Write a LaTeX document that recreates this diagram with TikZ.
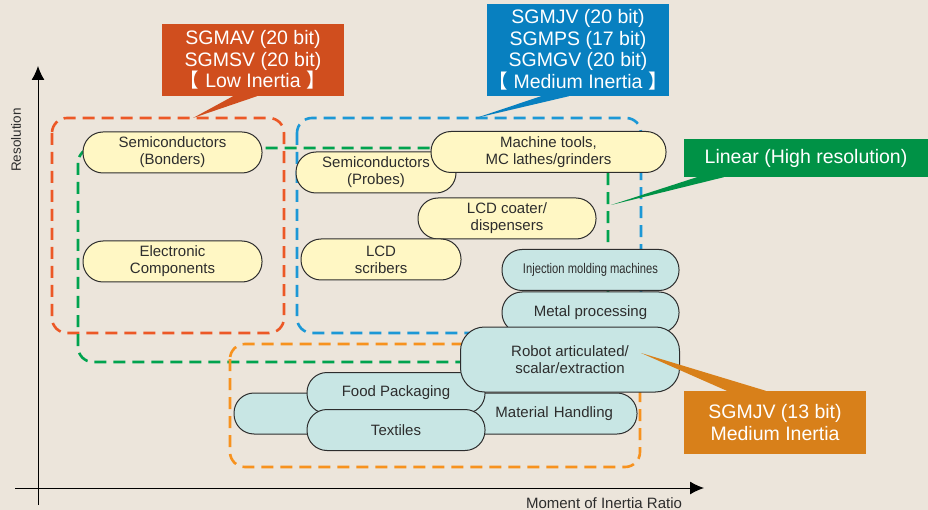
\documentclass[tikz,border=0pt]{standalone}
\usepackage{fontspec}
\setmainfont{Liberation Sans}
\newfontfamily\cjk{Noto Sans CJK SC}
\usetikzlibrary{positioning,arrows.meta}

\definecolor{bgcol}{RGB}{236,229,219}
\definecolor{lowcol}{RGB}{208,78,30}
\definecolor{medcol}{RGB}{8,128,192}
\definecolor{lincol}{RGB}{0,146,70}
\definecolor{jvcol}{RGB}{216,128,26}
\definecolor{lowdash}{RGB}{236,88,38}
\definecolor{meddash}{RGB}{28,152,214}
\definecolor{lindash}{RGB}{0,163,78}
\definecolor{jvdash}{RGB}{247,146,30}
\definecolor{yfill}{RGB}{255,247,196}
\definecolor{cfill}{RGB}{200,230,228}
\definecolor{edge}{RGB}{45,45,45}

\begin{document}
\begin{tikzpicture}[
  x = 1pt, y = -1pt,
  app/.style = {draw=edge, line width=1pt, rounded corners=20pt,
    minimum height=41, inner sep=0pt, align=center, text=edge,
    font=\fontsize{15}{17}\selectfont},
  yapp/.style = {app, fill=yfill},
  capp/.style = {app, fill=cfill},
  group/.style = {line width=2.6pt, dash pattern=on 12pt off 7pt,
    rounded corners=15pt},
  callout/.style = {inner sep=0pt, align=center, text=white,
    font=\fontsize{19.5}{21.5}\selectfont},
  ]
  \fill[bgcol] (0,0) rectangle (928,510);
  \useasboundingbox (0,0) rectangle (928,510);

  % axes
  \coordinate (yfoot) at (38,505);
  \coordinate (ytip) at (38,66);
  \coordinate (xfoot) at (15,488);
  \coordinate (xtip) at (704,488);
  \draw[line width=1pt, -{Latex[length=14pt,width=13pt]}] (yfoot) -- (ytip);
  \draw[line width=1pt, -{Latex[length=14pt,width=13pt]}] (xfoot) -- (xtip);
  \node[rotate=90, text=edge, font=\fontsize{13.5}{15}\selectfont]
    (res) at (16,140) {Resolution};
  \node[anchor=base, text=edge, font=\fontsize{15}{17}\selectfont]
    (mir) at (604,508) {Moment of Inertia Ratio};

  % dashed groups
  \draw[group, lowdash] (52,118) rectangle (284,333);
  \draw[group, meddash] (297,118) rectangle (641,333);
  \draw[group, lindash] (78,148) rectangle (608,362);
  \draw[group, jvdash] (230,344) rectangle (640,467);

  % applications
  \node[yapp, minimum width=179] (bond) at (172.5,152.5) {Semiconductors\\(Bonders)};
  \node[yapp, minimum width=179] (elec) at (172.5,261.5) {Electronic\\Components};
  \node[yapp, minimum width=160] (probe) at (376,172.5) {Semiconductors\\(Probes)};
  \node[yapp, minimum width=235] (mach) at (548.5,152) {Machine tools,\\MC lathes/grinders};
  \node[yapp, minimum width=178] (coat) at (507,218.5) {LCD coater/\\dispensers};
  \node[yapp, minimum width=160] (scrib) at (381,259.5) {LCD\\scribers};
  \node[capp, minimum width=177] (inject) at (590.5,270)
    {\fontsize{14}{16}\selectfont\scalebox{0.8}[1]{Injection molding machines}};
  \node[capp, minimum width=177] (metal) at (590.5,312.5) {Metal processing};
  \node[capp, minimum width=403, text width=355, align=right]
    (handle) at (435.5,413.5) {Material Handling};
  \node[capp, minimum width=178] (food) at (396,393) {Food Packaging};
  \node[capp, minimum width=178] (tex) at (396,430) {Textiles};
  \node[capp, minimum width=219, minimum height=65, rounded corners=24pt]
    (robot) at (570,359.5) {Robot articulated/\\scalar/extraction};

  % callouts
  \node[callout, fill=lowcol, minimum width=182, minimum height=72]
    (lowcall) at (253,60) {SGMAV (20 bit)\\SGMSV (20 bit)\\{\cjk 【}\hspace{6pt}Low Inertia\hspace{6pt}{\cjk 】}};
  \node[callout, fill=medcol, minimum width=182, minimum height=92]
    (medcall) at (578,50) {SGMJV (20 bit)\\SGMPS (17 bit)\\SGMGV (20 bit)\\{\cjk 【}\hspace{6pt}Medium Inertia\hspace{6pt}{\cjk 】}};
  \node[callout, fill=lincol, minimum width=244, minimum height=38]
    (lincall) at (806,158) {Linear (High resolution)};
  \node[callout, fill=jvcol, minimum width=182, minimum height=63]
    (jvcall) at (775,422.5) {SGMJV (13 bit)\\Medium Inertia};

  \coordinate (lowtip) at (193,118);
  \coordinate (medtip) at (476,118);
  \coordinate (lintip) at (611,205);
  \coordinate (jvtip) at (641,353);
  \fill[lowcol] ([xshift=-20pt]lowcall.south) -- (lowtip) -- ([xshift=4pt]lowcall.south) -- cycle;
  \fill[medcol] ([xshift=-37pt]medcall.south) -- (medtip) -- ([xshift=-9pt]medcall.south) -- cycle;
  \fill[lincol] ([xshift=13pt]lincall.south west) -- (lintip) -- ([xshift=40pt]lincall.south west) -- cycle;
  \fill[jvcol] ([xshift=43pt]jvcall.north west) -- (jvtip) -- ([xshift=82pt]jvcall.north west) -- cycle;
\end{tikzpicture}
\end{document}
